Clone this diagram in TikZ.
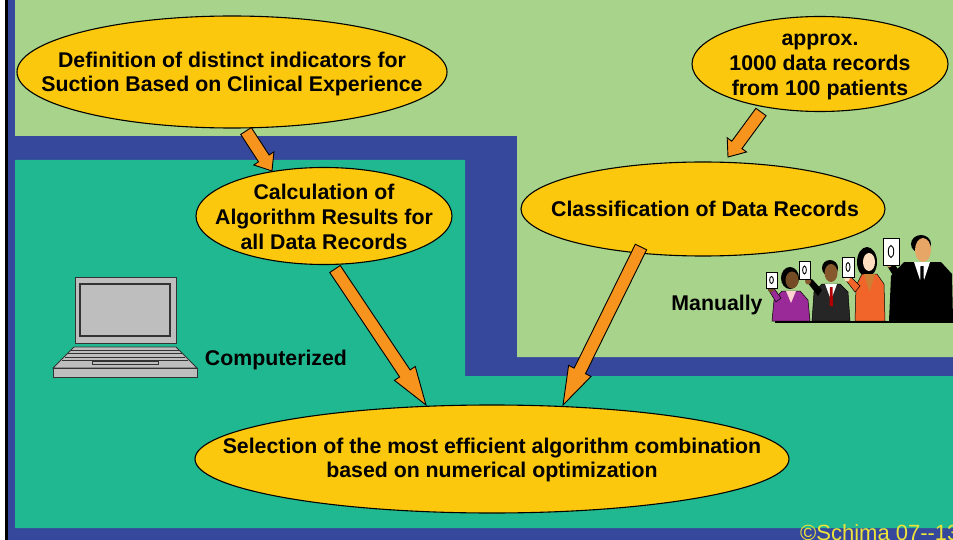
\documentclass[tikz,border=0pt]{standalone}
\usepackage{fontspec}
\setmainfont{Liberation Sans}
\usetikzlibrary{shapes.geometric,calc}

\definecolor{lgreen}{HTML}{A7D38B}
\definecolor{dblue}{HTML}{36489C}
\definecolor{sea}{HTML}{20B891}
\definecolor{ovalfill}{HTML}{FCC80D}
\definecolor{arrowfill}{HTML}{F7941E}
\definecolor{notice}{HTML}{EEE33A}
\definecolor{pcgray}{HTML}{BEBEBE}
\definecolor{purplejacket}{HTML}{9A2A98}
\definecolor{orangejacket}{HTML}{F2652A}

\tikzset{
  oval/.style={ellipse, draw=black, line width=1.1pt, fill=ovalfill, inner sep=0pt},
  ovaltext/.style={align=center, font=\bfseries\fontsize{21.3}{24.8}\selectfont, inner sep=0pt},
  plain/.style={font=\bfseries\fontsize{21.3}{24.8}\selectfont, inner sep=0pt},
  arrowbody/.style={fill=arrowfill, draw=black, line width=0.9pt, line join=miter},
  pcpart/.style={fill=pcgray, draw=black!80, line width=0.9pt},
  card/.style={fill=white, draw=black, line width=0.6pt},
}

% block arrow: tail, tip, head length, head half-width, name
\newcommand\blockarrow[5]{%
  \coordinate (#5-hb) at ($(#2)!#3!(#1)$);
  \filldraw[arrowbody]
    ($(#1)!6.3pt!90:(#2)$) -- ($(#5-hb)!6.3pt!90:(#2)$) --
    ($(#5-hb)!#4!90:(#2)$) -- (#2) --
    ($(#5-hb)!#4!-90:(#2)$) -- ($(#5-hb)!6.3pt!-90:(#2)$) --
    ($(#1)!6.3pt!-90:(#2)$) -- cycle;
}
% voting card with a zero
\newcommand\votecard[4]{%
  \filldraw[card] (#1,#2) rectangle (#3,#4);
  \draw[line width=0.9pt] ({(#1+#3)/2},{(#2+#4)/2}) ellipse ({(#3-#1)*0.17} and {(#4-#2)*0.22});
}

\begin{document}
\begin{tikzpicture}[x=1pt,y=-1pt]
\clip (0,0) rectangle (953,540);

% frame and coloured panels
\fill[white] (0,0) rectangle (953,540);
\fill[black] (4.5,0) rectangle (7.5,540);
\fill[dblue] (7.5,0) rectangle (953,540);
\fill[lgreen] (15,0) -- (953,0) -- (953,357) -- (517,357) -- (517,136) -- (15,136) -- cycle;
\fill[sea] (15,160) -- (465,160) -- (465,376) -- (953,376) -- (953,528) -- (15,528) -- cycle;

% ovals
\node[oval, minimum width=430pt, minimum height=112pt] (def) at (232,72) {};
\node[ovaltext] (deft) at (232,74) {Definition of distinct indicators for\\Suction Based on Clinical Experience};

\node[oval, minimum width=256pt, minimum height=95pt] (rec) at (820,64) {};
\node[ovaltext] (rect) at (820,67) {approx.\\1000 data records\\from 100 patients};

\node[oval, minimum width=256pt, minimum height=97pt] (calc) at (324,216) {};
\node[ovaltext] (calct) at (324,217) {Calculation of\\Algorithm Results for\\all Data Records};

\node[oval, minimum width=364pt, minimum height=94pt] (cls) at (703,209) {};
\node[ovaltext] (clst) at (705,209) {Classification of Data Records};

\node[oval, minimum width=594pt, minimum height=108pt] (sel) at (492,459) {};
\node[ovaltext] (selt) at (492,460) {Selection of the most efficient algorithm combination\\based on numerical optimization};

% arrows
\coordinate (a1s) at (246,131); \coordinate (a1e) at (272,171);
\coordinate (a2s) at (761,112); \coordinate (a2e) at (728,157);
\coordinate (a3s) at (335,269); \coordinate (a3e) at (426,405);
\coordinate (a4s) at (641,247); \coordinate (a4e) at (563,405);
\blockarrow{a1s}{a1e}{15pt}{12pt}{a1}
\blockarrow{a2s}{a2e}{15pt}{12pt}{a2}
\blockarrow{a3s}{a3e}{38pt}{12.5pt}{a3}
\blockarrow{a4s}{a4e}{38pt}{12.5pt}{a4}

% labels
\node[plain] (comp) at (276,360) {Computerized};
\node[plain] (man) at (717,305) {Manually};

% laptop
\filldraw[pcpart] (75,277) rectangle (176,343);
\filldraw[pcpart, line width=1.1pt] (80,284) rectangle (170,336);
\filldraw[pcpart] (74,347) -- (176,347) -- (197,368) -- (53,368) -- cycle;
\filldraw[pcpart] (53,368) rectangle (197,377);
\draw[black!80, line width=0.8pt] (71,350) -- (179,350)
  (68,353.5) -- (182,353.5) (65,357) -- (185,357) (62,360) -- (188,360);
\filldraw[pcpart, line width=0.8pt] (92,361.5) rectangle (158,364.5);

% jury holding up score cards
% woman in purple
\fill[black] (790,278) ellipse (9 and 11);
\fill[brown!60!black] (792,280) ellipse (6.5 and 8.5);
\filldraw[fill=purplejacket, draw=black, line width=0.5pt]
  (772,321) -- (774,300) -- (782,291) -- (800,291) -- (808,300) -- (810,321) -- cycle;
\fill[pink!70] (786,291) -- (791,303) -- (796,291) -- cycle;
\filldraw[fill=purplejacket, draw=black, line width=0.5pt]
  (776,302) -- (768,289) -- (773,287) -- (781,298) -- cycle;
\fill[brown!60!black] (771,289) ellipse (3 and 3.5);
\votecard{766}{272}{777}{288}
% man in dark suit with red tie
\fill[black] (830,268) ellipse (8 and 8);
\fill[brown!70!black] (831,273) ellipse (6.5 and 9);
\filldraw[fill=black!85, draw=black, line width=0.5pt]
  (812,321) -- (814,292) -- (822,284) -- (840,284) -- (848,292) -- (850,321) -- cycle;
\fill[white] (825,284) -- (831,300) -- (837,284) -- cycle;
\fill[red!70!black] (830,287) -- (832.5,287) -- (833,306) -- (829.5,306) -- cycle;
\fill[black] (818,296) -- (807,282) -- (812,279) -- (822,290) -- cycle;
\fill[brown!70!black] (808,281) ellipse (3 and 3.5);
\votecard{799}{261}{810}{279}
% woman in orange
\fill[black] (867,262) ellipse (10 and 15);
\fill[orange!25!white] (869,262) ellipse (6 and 9);
\filldraw[fill=orangejacket, draw=black, line width=0.5pt]
  (855,321) -- (856,286) -- (862,274) -- (877,274) -- (884,284) -- (885,321) -- cycle;
\fill[brown!80!orange] (864,274) -- (869.5,292) -- (875,274) -- cycle;
\filldraw[fill=orangejacket, draw=black, line width=0.5pt]
  (855,292) -- (845,279) -- (850,276) -- (860,286) -- cycle;
\fill[orange!25!white] (847,278) ellipse (3 and 3.5);
\votecard{842}{257}{854}{277}
% tall man in black suit
\fill[black] (921,244) ellipse (10 and 9);
\fill[orange!45!brown!70!white] (923,250) ellipse (8 and 12);
\fill[black] (889,321) -- (891,276) -- (904,262) -- (941,262) -- (952,274) -- (953,321) -- cycle;
\fill[white] (914,262) -- (922,286) -- (930,262) -- cycle;
\fill[black] (920.5,266) -- (923.5,266) -- (924,292) -- (920,292) -- cycle;
\fill[black] (897,282) -- (886,264) -- (892,261) -- (903,276) -- cycle;
\fill[orange!45!brown!70!white] (889,263) ellipse (3.5 and 4.5);
\votecard{883}{238}{899}{265}
% table edge
\draw[black, line width=2pt] (775,322) -- (953,322);

% copyright line, running off the lower right corner
\node[anchor=base west, text=notice, inner sep=0pt, font=\fontsize{22}{22}\selectfont] (copy) at (800,540) {\textcopyright Schima 07{-}{-}13};
\end{tikzpicture}
\end{document}
